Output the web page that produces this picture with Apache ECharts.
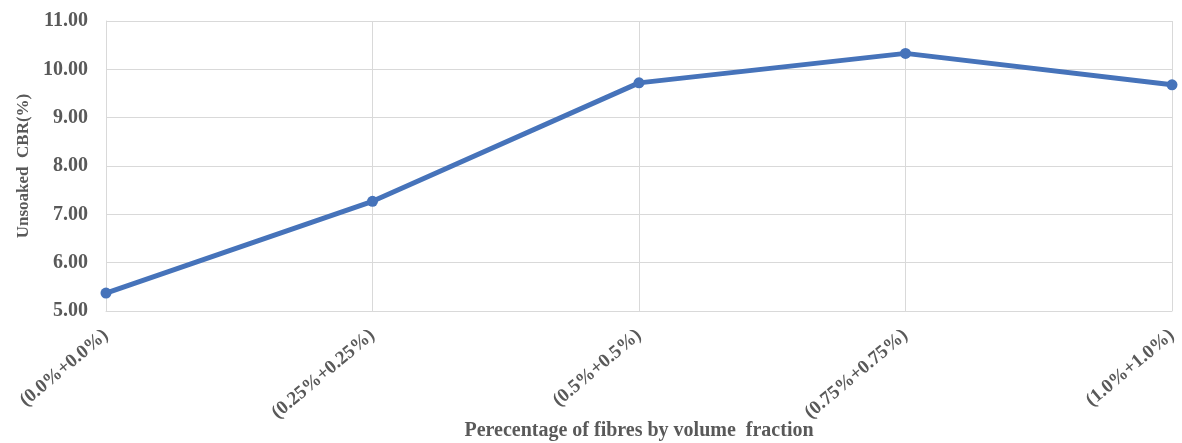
<!DOCTYPE html>
<html>
<head>
<meta charset="utf-8">
<script src="https://cdn.jsdelivr.net/npm/echarts@6/dist/echarts.min.js"></script>
<style>
html,body{margin:0;padding:0;background:#fff;}
#chart{width:1182px;height:443px;}
</style>
</head>
<body>
<div id="chart"></div>
<script>
var categories = ['(0.0%+0.0%)', '(0.25%+0.25%)', '(0.5%+0.5%)', '(0.75%+0.75%)', '(1.0%+1.0%)'];
var cbrValues = [5.37, 7.27, 9.72, 10.33, 9.68];
var yTicks = { min: 5, max: 11, interval: 1 };

var chart = echarts.init(document.getElementById('chart'));
var gridColor = '#d9d9d9';
var textColor = '#595959';
var font = '"Liberation Serif", "Times New Roman", serif';
chart.setOption({
  animation: false,
  grid: { left: 106, right: 10, top: 21, bottom: 132, containLabel: false, outerBoundsMode: 'none' },
  xAxis: {
    type: 'category',
    data: categories,
    boundaryGap: false,
    name: 'Perecentage of fibres by volume  fraction',
    nameLocation: 'middle',
    nameGap: 110,
    nameMoveOverlap: false,
    nameTextStyle: { color: textColor, fontFamily: font, fontWeight: 'bold', fontSize: 20 },
    axisLine: { show: true, lineStyle: { color: gridColor, width: 1 } },
    axisTick: { show: false },
    splitLine: { show: true, lineStyle: { color: gridColor, width: 1 } },
    axisLabel: {
      rotate: 40,
      margin: 22,
      color: textColor,
      fontFamily: font,
      fontWeight: 'bold',
      fontSize: 19,
      interval: 0
    }
  },
  yAxis: {
    type: 'value',
    min: yTicks.min,
    max: yTicks.max,
    interval: yTicks.interval,
    name: 'Unsoaked  CBR(%)',
    nameLocation: 'middle',
    nameGap: 74,
    nameRotate: 90,
    nameMoveOverlap: false,
    nameTextStyle: { color: textColor, fontFamily: font, fontWeight: 'bold', fontSize: 17 },
    axisLine: { show: true, lineStyle: { color: gridColor, width: 1 } },
    axisTick: { show: false },
    splitLine: { show: true, lineStyle: { color: gridColor, width: 1 } },
    axisLabel: {
      margin: 18,
      color: textColor,
      fontFamily: font,
      fontWeight: 'bold',
      fontSize: 20,
      formatter: function (v) { return v.toFixed(2); }
    }
  },
  series: [{
    type: 'line',
    data: cbrValues,
    symbol: 'circle',
    symbolSize: 11,
    lineStyle: { color: '#4673BA', width: 5 },
    itemStyle: { color: '#4673BA' }
  }]
});
</script>
</body>
</html>
